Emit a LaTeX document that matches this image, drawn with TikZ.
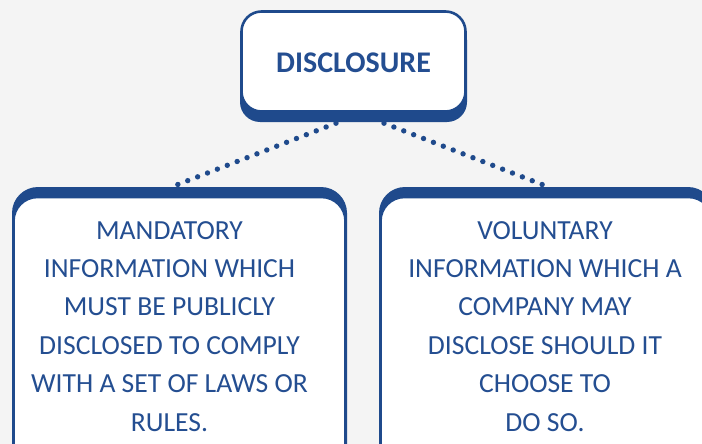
\documentclass[tikz,border=0pt]{standalone}
\usepackage{fontspec}
\setmainfont{Carlito}
\usetikzlibrary{calc}
\definecolor{dblue}{RGB}{31,74,140}
\definecolor{tblue}{RGB}{36,78,145}
\definecolor{bg}{RGB}{244,244,244}
\tikzset{
  shadowbox/.style={draw=none, fill=dblue, rounded corners=#1, inner sep=0pt},
  whitebox/.style={draw=dblue, line width=2.6pt, fill=white, rounded corners=#1, inner sep=0pt},
  bodytext/.style={text=tblue, align=center, font=\fontsize{27.6}{38.4}\selectfont, inner sep=0pt, anchor=north},
  dotline/.style={dblue, line width=5.4pt, line cap=round, dash pattern=on 0pt off 10.6pt}
}
\begin{document}
\begin{tikzpicture}[x=1pt,y=1pt]
\useasboundingbox (0,0) rectangle (702,-444);
\fill[bg] (0,0) rectangle (702,-444);
% top box
\node[shadowbox=20pt, minimum width=227pt, minimum height=102pt] (topsh) at (353.5,-71) {};
\node[whitebox=20pt, minimum width=224pt, minimum height=100pt] (top) at (353.5,-61.5) {};
\node[text=tblue, font=\bfseries\fontsize{30}{34}\selectfont, inner sep=0pt] (toptext) at (353.5,-62.5) {DISCLOSURE};
% left box
\node[shadowbox=26pt, minimum width=335pt, minimum height=300pt] (leftsh) at (179.5,-337) {};
\node[whitebox=24pt, minimum width=332pt, minimum height=300pt] (left) at (179.5,-347) {};
\node[bodytext] (lefttext) at (169.5,-221) {MANDATORY\\INFORMATION WHICH\\MUST BE PUBLICLY\\DISCLOSED TO COMPLY\\WITH A SET OF LAWS OR\\RULES.};
% right box
\node[shadowbox=26pt, minimum width=335pt, minimum height=300pt] (rightsh) at (546.5,-337) {};
\node[whitebox=24pt, minimum width=332pt, minimum height=300pt] (right) at (546.5,-347) {};
\node[bodytext] (righttext) at (545,-221) {VOLUNTARY\\INFORMATION WHICH A\\COMPANY MAY\\DISCLOSE SHOULD IT\\CHOOSE TO\\DO SO.};
% connectors
\coordinate (ls) at ($(topsh.south)+(-17.5,-1)$);
\coordinate (le) at ($(leftsh.north)+(-2.5,2)$);
\coordinate (rs) at ($(topsh.south)+(30.5,-1)$);
\coordinate (re) at ($(rightsh.north)+(1.5,0)$);
\draw[dotline] (ls) -- (le);
\draw[dotline] (rs) -- (re);
\end{tikzpicture}
\end{document}
